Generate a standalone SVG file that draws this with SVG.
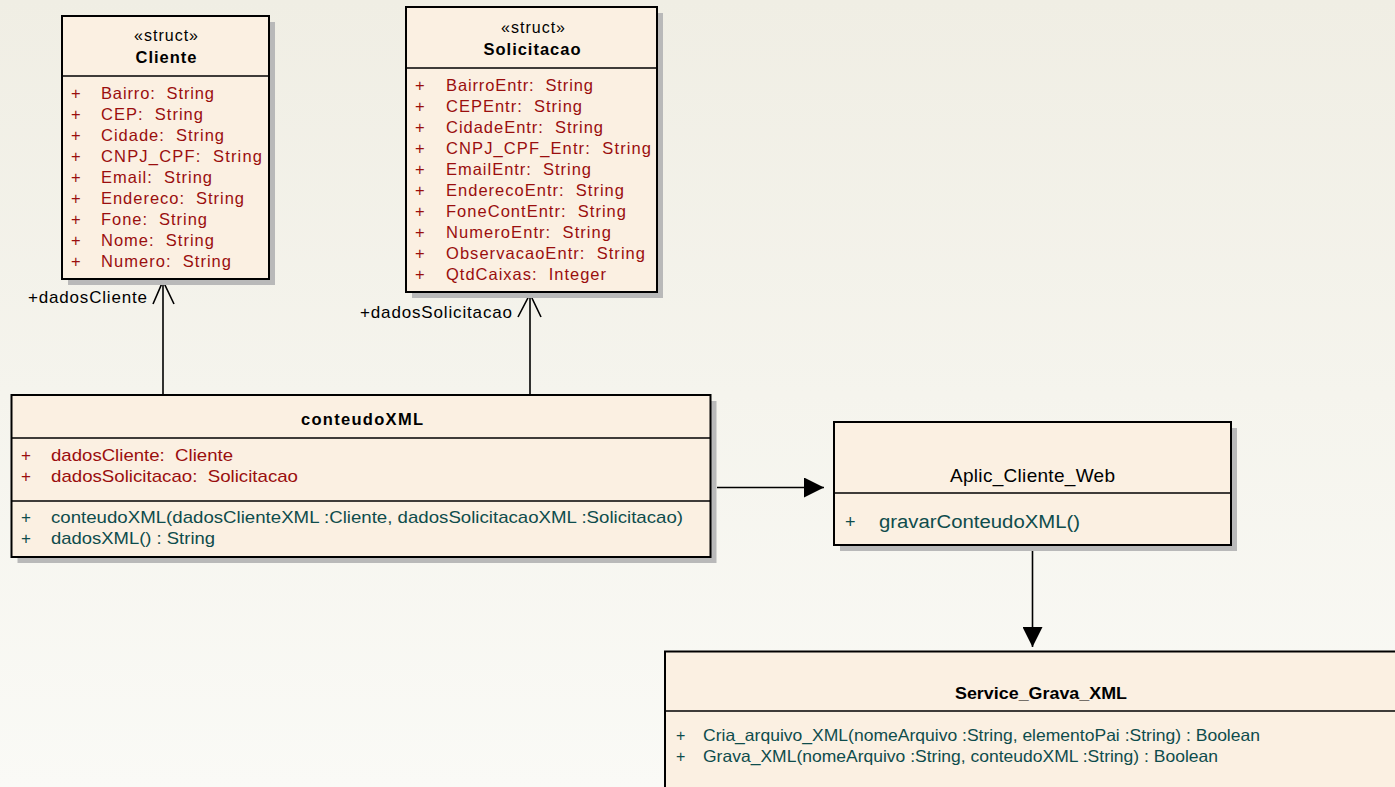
<svg xmlns="http://www.w3.org/2000/svg" width="1395" height="787" viewBox="0 0 1395 787">
<defs>
<linearGradient id="bg" x1="0" y1="0" x2="0" y2="1">
<stop offset="0" stop-color="#f0eee4"/>
<stop offset="1" stop-color="#fafaf6"/>
</linearGradient>
<marker id="filled" markerWidth="20" markerHeight="20" viewBox="0 0 20 20" refX="20" refY="10" orient="auto" markerUnits="userSpaceOnUse">
<path d="M0,0 L20,10 L0,20 Z" fill="#000"/>
</marker>
</defs>
<style>
.box{fill:#fbf0e2;stroke:#000;stroke-width:2}
.shadow{fill:#b9b9b9}
.div{stroke:#000;stroke-width:1.6}
.t{font-family:"Liberation Sans",Arial,sans-serif;fill:#000}
.st{font-size:16px;text-anchor:middle}
.nm{font-size:16.5px;font-weight:bold;text-anchor:middle}
.attr{font-family:"Liberation Sans",Arial,sans-serif;font-size:16.5px;fill:#9a0e0e}
.meth{font-family:"Liberation Sans",Arial,sans-serif;font-size:17px;fill:#0e4c4c}
.lbl{font-family:"Liberation Sans",Arial,sans-serif;font-size:17px;fill:#000}
.ln{stroke:#000;stroke-width:1.6;fill:none}
</style>
<rect width="1395" height="787" fill="url(#bg)"/>

<g id="connectors">
<line class="ln" x1="163" y1="281" x2="163" y2="395"/>
<polyline class="ln" points="153,304 163,281 174,304"/>
<text class="lbl" x="28" y="303" textLength="119">+dadosCliente</text>
<line class="ln" x1="530" y1="294" x2="530" y2="395"/>
<polyline class="ln" points="518,317 530,294 541,317"/>
<text class="lbl" x="360" y="318" textLength="152">+dadosSolicitacao</text>
<line class="ln" x1="717" y1="487.5" x2="824" y2="487.5" marker-end="url(#filled)"/>
<line class="ln" x1="1032.5" y1="551" x2="1032.5" y2="647" marker-end="url(#filled)"/>
</g>

<g id="Cliente">
<rect class="shadow" x="68" y="22" width="207" height="263"/>
<rect class="box" x="62" y="16" width="207" height="263"/>
<line class="div" x1="62" y1="76" x2="269" y2="76"/>
<text class="t st" x="166" y="41" textLength="64">«struct»</text>
<text class="t nm" x="166" y="63" textLength="61">Cliente</text>
<g class="attr">
<text x="71" y="98.5">+</text><text x="101" y="98.5" textLength="113">Bairro:&#160; String</text>
<text x="71" y="119.5">+</text><text x="101" y="119.5" textLength="102">CEP:&#160; String</text>
<text x="71" y="140.5">+</text><text x="101" y="140.5" textLength="123">Cidade:&#160; String</text>
<text x="71" y="161.5">+</text><text x="101" y="161.5" textLength="161">CNPJ_CPF:&#160; String</text>
<text x="71" y="182.5">+</text><text x="101" y="182.5" textLength="111">Email:&#160; String</text>
<text x="71" y="203.5">+</text><text x="101" y="203.5" textLength="143">Endereco:&#160; String</text>
<text x="71" y="224.5">+</text><text x="101" y="224.5" textLength="106">Fone:&#160; String</text>
<text x="71" y="246">+</text><text x="101" y="246" textLength="113">Nome:&#160; String</text>
<text x="71" y="267">+</text><text x="101" y="267" textLength="130">Numero:&#160; String</text>
</g>
</g>

<g id="Solicitacao">
<rect class="shadow" x="412" y="13" width="251" height="285"/>
<rect class="box" x="406" y="7" width="251" height="285"/>
<line class="div" x1="406" y1="68" x2="657" y2="68"/>
<text class="t st" x="533" y="33" textLength="64">«struct»</text>
<text class="t nm" x="532" y="55" textLength="97">Solicitacao</text>
<g class="attr">
<text x="415" y="91">+</text><text x="446" y="91" textLength="147">BairroEntr:&#160; String</text>
<text x="415" y="112">+</text><text x="446" y="112" textLength="136">CEPEntr:&#160; String</text>
<text x="415" y="133">+</text><text x="446" y="133" textLength="157">CidadeEntr:&#160; String</text>
<text x="415" y="154">+</text><text x="446" y="154" textLength="205">CNPJ_CPF_Entr:&#160; String</text>
<text x="415" y="175">+</text><text x="446" y="175" textLength="145">EmailEntr:&#160; String</text>
<text x="415" y="196">+</text><text x="446" y="196" textLength="178">EnderecoEntr:&#160; String</text>
<text x="415" y="217">+</text><text x="446" y="217" textLength="180">FoneContEntr:&#160; String</text>
<text x="415" y="238">+</text><text x="446" y="238" textLength="165">NumeroEntr:&#160; String</text>
<text x="415" y="259">+</text><text x="446" y="259" textLength="199">ObservacaoEntr:&#160; String</text>
<text x="415" y="280">+</text><text x="446" y="280" textLength="160">QtdCaixas:&#160; Integer</text>
</g>
</g>

<g id="conteudoXML">
<rect class="shadow" x="17.5" y="401" width="699" height="162"/>
<rect class="box" x="11.5" y="395" width="699" height="162"/>
<line class="div" x1="11.5" y1="438" x2="710.5" y2="438"/>
<line class="div" x1="11.5" y1="501" x2="710.5" y2="501"/>
<text class="t nm" x="362" y="425" textLength="122">conteudoXML</text>
<g class="attr" style="font-size:17px">
<text x="21" y="461">+</text><text x="51" y="461" textLength="182" lengthAdjust="spacingAndGlyphs">dadosCliente:&#160; Cliente</text>
<text x="21" y="481.5">+</text><text x="51" y="481.5" textLength="247" lengthAdjust="spacingAndGlyphs">dadosSolicitacao:&#160; Solicitacao</text>
</g>
<g class="meth">
<text x="21" y="523">+</text><text x="51" y="523" textLength="632" lengthAdjust="spacingAndGlyphs">conteudoXML(dadosClienteXML :Cliente, dadosSolicitacaoXML :Solicitacao)</text>
<text x="21" y="544">+</text><text x="51" y="544" textLength="164" lengthAdjust="spacingAndGlyphs">dadosXML() : String</text>
</g>
</g>

<g id="Aplic_Cliente_Web">
<rect class="shadow" x="840" y="428" width="397" height="123"/>
<rect class="box" x="834" y="422" width="397" height="123"/>
<line class="div" x1="834" y1="493" x2="1231" y2="493"/>
<text class="t" x="1032.5" y="481.5" font-size="19" text-anchor="middle" textLength="165">Aplic_Cliente_Web</text>
<text x="845" y="528" class="meth" style="font-size:18px">+</text><text x="879" y="528" class="meth" style="font-size:18px" textLength="201" lengthAdjust="spacingAndGlyphs">gravarConteudoXML()</text>
</g>

<g id="Service_Grava_XML">
<rect class="box" x="665" y="651.5" width="740" height="150"/>
<line class="div" x1="665" y1="711" x2="1400" y2="711"/>
<text class="t" x="1041" y="699" font-size="17" font-weight="bold" text-anchor="middle" textLength="172" lengthAdjust="spacingAndGlyphs">Service_Grava_XML</text>
<g class="meth">
<text x="676" y="741" style="font-size:16px">+</text><text x="703" y="741" style="font-size:16.5px" textLength="557" lengthAdjust="spacingAndGlyphs">Cria_arquivo_XML(nomeArquivo :String, elementoPai :String) : Boolean</text>
<text x="676" y="762" style="font-size:16px">+</text><text x="703" y="762" style="font-size:16.5px" textLength="515" lengthAdjust="spacingAndGlyphs">Grava_XML(nomeArquivo :String, conteudoXML :String) : Boolean</text>
</g>
</g>
</svg>
